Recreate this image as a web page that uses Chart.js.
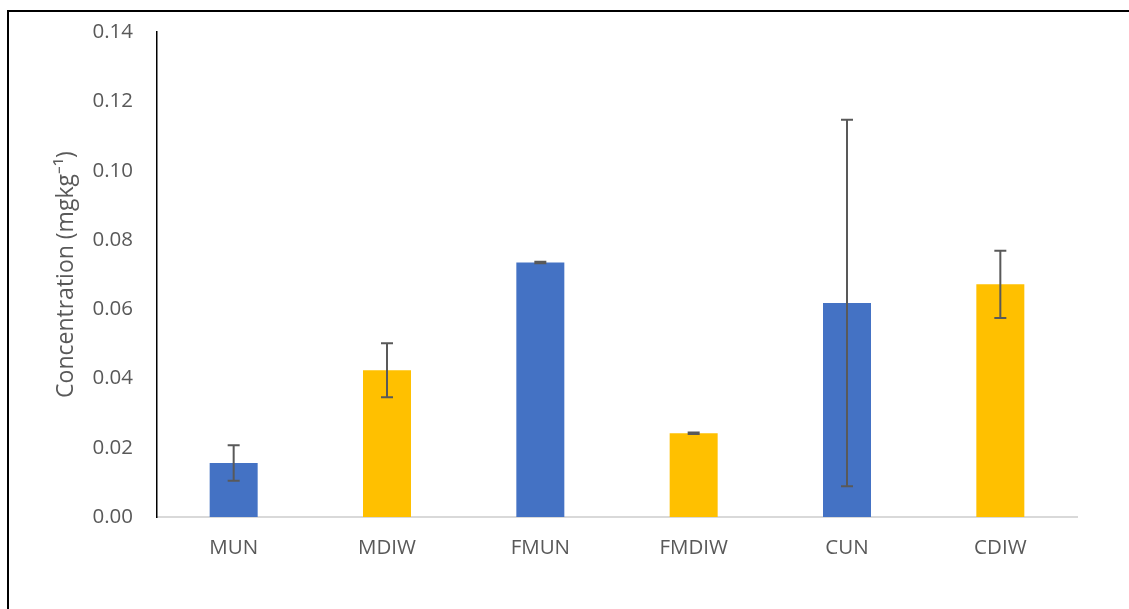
<!DOCTYPE html>
<html>
<head>
<meta charset="utf-8">
<script src="https://cdn.jsdelivr.net/npm/chart.js@4"></script>
<style>
  html, body { margin: 0; padding: 0; background: #fff; overflow: hidden; }
  #wrap { position: absolute; left: 0; top: 0; width: 1129px; height: 609px; }
  #frame { position: absolute; left: 7px; top: 10px; width: 2000px; height: 2000px; border: 2px solid #000; }
</style>
</head>
<body>
<div id="frame"></div>
<div id="wrap"><canvas id="chart" width="1129" height="609"></canvas></div>
<script>
var categories = ['MUN', 'MDIW', 'FMUN', 'FMDIW', 'CUN', 'CDIW'];
var means = [0.0156, 0.0424, 0.0735, 0.0242, 0.0618, 0.0672];
var errors = [0.0051, 0.0078, 0.0002, 0.0002, 0.0529, 0.0097];
var barColors = ['#4472C4', '#FFC000', '#4472C4', '#FFC000', '#4472C4', '#FFC000'];
var yTicks = [0, 0.02, 0.04, 0.06, 0.08, 0.10, 0.12, 0.14];

var fontFamily = '"Open Sans", "Liberation Sans", sans-serif';

// error bars drawn through the y scale
var errorBars = {
  id: 'errorBars',
  afterDatasetsDraw: function (chart) {
    var ctx = chart.ctx;
    var yScale = chart.scales.y;
    var meta = chart.getDatasetMeta(0);
    ctx.save();
    ctx.strokeStyle = '#595959';
    ctx.lineWidth = 2;
    meta.data.forEach(function (bar, i) {
      var x = bar.x;
      var top = yScale.getPixelForValue(means[i] + errors[i]);
      var bottom = yScale.getPixelForValue(means[i] - errors[i]);
      ctx.beginPath();
      ctx.moveTo(x, top);
      ctx.lineTo(x, bottom);
      ctx.moveTo(x - 6, top);
      ctx.lineTo(x + 6, top);
      ctx.moveTo(x - 6, bottom);
      ctx.lineTo(x + 6, bottom);
      ctx.stroke();
    });
    ctx.restore();
  }
};

new Chart(document.getElementById('chart'), {
  type: 'bar',
  data: {
    labels: categories,
    datasets: [
      {
        data: means,
        backgroundColor: barColors,
        borderWidth: 0,
        barPercentage: 0.313,
        categoryPercentage: 1,
      },
    ],
  },
  options: {
    responsive: false,
    animation: false,
    layout: { padding: { left: 48, top: 20, right: 52, bottom: 0 } },
    plugins: {
      legend: { display: false },
      tooltip: { enabled: false },
    },
    scales: {
      x: {
        grid: { display: false, drawTicks: false },
        border: { display: true, color: '#d9d9d9', width: 2 },
        ticks: {
          color: '#595959',
          padding: 19,
          maxRotation: 0,
          font: { family: fontFamily, size: 20.5 },
        },
        afterFit: function (scale) { scale.height = 92; },
      },
      y: {
        min: 0,
        max: 0.14,
        afterBuildTicks: function (scale) {
          scale.ticks = yTicks.map(function (v) { return { value: v }; });
        },
        grid: { display: false, drawTicks: false },
        border: { display: true, color: '#000', width: 1.5 },
        ticks: {
          color: '#595959',
          padding: 24,
          font: { family: fontFamily, size: 20.5, lineHeight: 0.8 },
          callback: function (v) { return Number(v).toFixed(2); },
        },
        title: {
          display: true,
          text: 'Concentration (mgkg\u207B\u00B9)',
          color: '#595959',
          padding: { top: 5, bottom: 0 },
          font: { family: fontFamily, size: 23 },
        },
        afterFit: function (scale) { scale.width = 109; },
      },
    },
  },
  plugins: [errorBars],
});
</script>
</body>
</html>
